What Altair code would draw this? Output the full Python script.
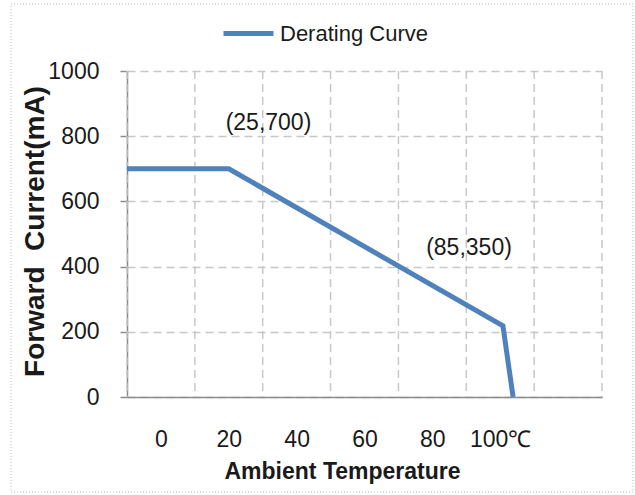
import altair as alt
import pandas as pd

# ---- data ----
temps = [-10, 20, 100.8, 103.8]
currents = [700, 700, 218, 0]
series_name = "Derating Curve"

grid_x = [-10, 10, 30, 50, 70, 90, 110, 130]
tick_x = [0, 20, 40, 60, 80, 100]
tick_y = [0, 200, 400, 600, 800, 1000]

ann_text = ["(25,700)", "(85,350)"]
ann_x = [31.7, 90.8]
ann_y = [840, 457]

FONT = "Liberation Sans, Arial"
TXT = "#1a1a1a"
AXC = "#8c8c8c"
GRC = "#c8c8c8"

line_df = pd.DataFrame({"t": temps, "i": currents, "s": [series_name] * len(temps)})
grid_df = pd.DataFrame({"t": grid_x})
ann_df = pd.DataFrame({"t": ann_x, "i": ann_y, "label": ann_text})
frame_df = pd.DataFrame({"a": [0]})

xscale = alt.Scale(domain=[-10, 130], nice=False, zero=False)
yscale = alt.Scale(domain=[0, 1000], nice=False)

xaxis = alt.Axis(
    values=tick_x,
    labelExpr="datum.value == 100 ? '100℃' : datum.label",
    ticks=False, tickSize=0, grid=False,
    labelPadding=31, labelFont=FONT, labelFontSize=23, labelColor=TXT,
    domainColor=AXC, domainWidth=1.5,
    title="Ambient Temperature", titleFont=FONT, titleFontSize=23,
    titleFontWeight="bold", titleColor=TXT,
    titleX=215, titleY=74, titleAlign="center", titleBaseline="middle",
)
yaxis = alt.Axis(
    values=tick_y, format="d", tickSize=7, tickColor=AXC, tickWidth=1.5,
    labelPadding=21, labelFont=FONT, labelFontSize=23, labelColor=TXT,
    domainColor=AXC, domainWidth=1.5,
    grid=True, gridColor=GRC, gridDash=[8, 5], gridWidth=1.5,
    title="Forward\u00a0\u00a0Current(mA)", titleFont=FONT,
    titleFontSize=28, titleFontWeight="bold", titleColor=TXT,
    titleX=-92, titleY=160, titleAngle=270, titleAlign="center",
    titleBaseline="middle",
)

frame = alt.Chart(frame_df).mark_rect(
    filled=False, stroke="#bdbdbd", strokeWidth=1, strokeDash=[1, 2]
).encode(
    x=alt.value(-116), x2=alt.value(506), y=alt.value(-67), y2=alt.value(421)
)

vgrid = alt.Chart(grid_df).mark_rule(
    color=GRC, strokeWidth=1.5, strokeDash=[8, 5]
).encode(x=alt.X("t:Q", scale=xscale, axis=xaxis))

line = alt.Chart(line_df).mark_line(strokeWidth=5, strokeJoin="miter").encode(
    x=alt.X("t:Q", scale=xscale, axis=xaxis),
    y=alt.Y("i:Q", scale=yscale, axis=yaxis),
    color=alt.Color(
        "s:N",
        scale=alt.Scale(range=["#4f81bd"]),
        legend=alt.Legend(
            title=None, orient="none", legendX=94, legendY=-65,
            symbolType="stroke", symbolSize=2500, symbolStrokeWidth=5,
            labelFont=FONT, labelFontSize=22, labelColor=TXT, labelOffset=4,
            labelLimit=400,
        ),
    ),
)

ann = alt.Chart(ann_df).mark_text(
    font=FONT, fontSize=23, color=TXT, align="center", baseline="middle"
).encode(
    x=alt.X("t:Q", scale=xscale, axis=xaxis),
    y=alt.Y("i:Q", scale=yscale, axis=yaxis),
    text="label:N",
)

chart = alt.layer(frame, vgrid, line, ann).properties(
    width=475, height=326,
    autosize=alt.AutoSizeParams(type="none"),
    padding={"left": 127, "top": 71, "right": 33, "bottom": 98},
    background="white",
).configure_view(stroke=None)

chart.save("out.html", embed_options={"renderer": "svg", "actions": False})
